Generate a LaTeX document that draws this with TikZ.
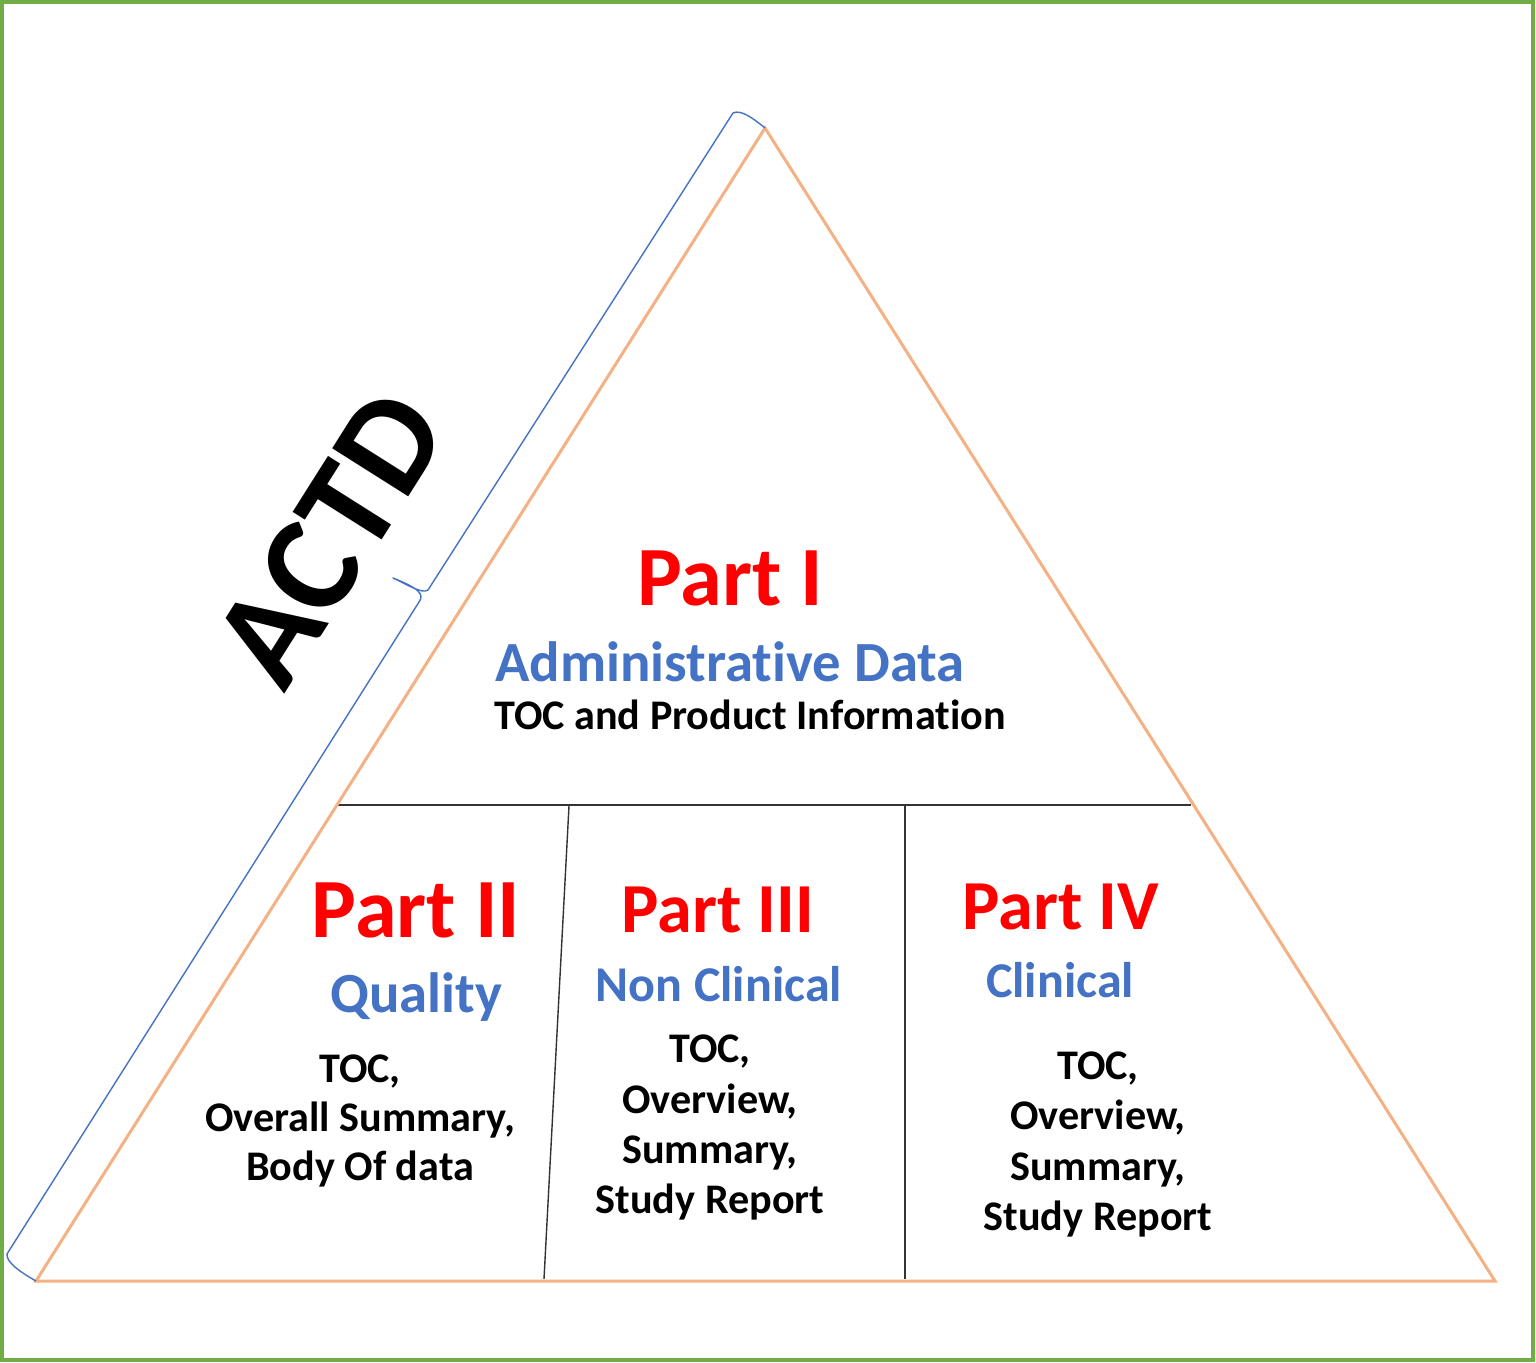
\documentclass[tikz,border=0pt]{standalone}
\usepackage{fontspec}
\setmainfont{Carlito}[Ligatures=NoCommon]
\definecolor{partred}{HTML}{FF0000}
\definecolor{headblue}{HTML}{4472C4}
\definecolor{triorange}{HTML}{F4B183}
\definecolor{framegreen}{HTML}{70AD47}
\begin{document}
\begin{tikzpicture}[x=0.02cm,y=-0.02cm,
  parttitle/.style={text=partred,font=\bfseries\fontsize{48}{56}\selectfont,anchor=base,inner sep=0pt},
  smallpart/.style={parttitle,font=\bfseries\fontsize{40}{48}\selectfont},
  heading/.style={text=headblue,font=\bfseries\fontsize{32.3}{38}\selectfont,anchor=base,inner sep=0pt},
  smallheading/.style={heading,font=\bfseries\fontsize{28.5}{34}\selectfont},
  bodyline/.style={text=black,font=\bfseries\fontsize{24}{29}\selectfont,anchor=base,inner sep=0pt},
  triline/.style={draw=triorange,line width=1.7pt,line join=miter},
  divline/.style={draw=black!80,line width=0.8pt},
  braceline/.style={draw=headblue,line width=0.8pt,line join=round}]
\useasboundingbox (0,0) rectangle (1536,1363);
\fill[white] (0,0) rectangle (1536,1363);
\draw[framegreen,line width=2.3pt] (2,2) rectangle (1533,1360);

% triangle
\coordinate (apex) at (765,128);
\coordinate (bl) at (36,1281);
\coordinate (br) at (1495,1281);
\coordinate (hl) at (338,805);
\coordinate (hr) at (1191,805);
\coordinate (d1t) at (569,806);
\coordinate (d1b) at (544,1279);
\coordinate (d2t) at (905,806);
\coordinate (d2b) at (905,1279);
\draw[divline] (hl) -- (hr);
\draw[divline] (d1t) -- (d1b);
\draw[divline] (d2t) -- (d2b);
\draw[triline] (apex) -- (br) -- (bl) -- cycle;

% brace
\coordinate (tip) at (393,578);
\draw[braceline] (bl) .. controls (20,1272) and (6,1262) .. (7,1254)
  -- (419,602) .. controls (425,594) and (418,588) .. (tip)
  .. controls (410,586) and (422,594) .. (428,590)
  -- (733,113) .. controls (741,109) and (754,119) .. (apex);

\node[rotate=57.7,font=\bfseries\fontsize{79}{84}\selectfont,inner sep=0pt] (actd) at (330,538) {ACTD};

% Part I
\node[parttitle] (p1) at (730,605) {Part I};
\node[heading] (p1h) at (730,681) {Administrative Data};
\node[bodyline] (p1b) at (750,729) {TOC and Product Information};

% Part II
\node[parttitle] (p2) at (416,937) {Part II};
\node[heading] (p2h) at (416,1012) {Quality};
\node[bodyline] (p2a) at (360,1082) {TOC,};
\node[bodyline] (p2b) at (360,1131) {Overall Summary,};
\node[bodyline] (p2c) at (360,1180) {Body Of data};

% Part III
\node[smallpart] (p3) at (718,932) {Part III};
\node[smallheading] (p3h) at (719,1001) {Non Clinical};
\node[bodyline] (p3a) at (710,1062) {TOC,};
\node[bodyline] (p3b) at (710,1113) {Overview,};
\node[bodyline] (p3c) at (710,1163) {Summary,};
\node[bodyline] (p3d) at (710,1213) {Study Report};

% Part IV
\node[smallpart] (p4) at (1061,929) {Part IV};
\node[smallheading] (p4h) at (1060,997) {Clinical};
\node[bodyline] (p4a) at (1098,1079) {TOC,};
\node[bodyline] (p4b) at (1098,1129) {Overview,};
\node[bodyline] (p4c) at (1098,1180) {Summary,};
\node[bodyline] (p4d) at (1098,1230) {Study Report};
\end{tikzpicture}
\end{document}
